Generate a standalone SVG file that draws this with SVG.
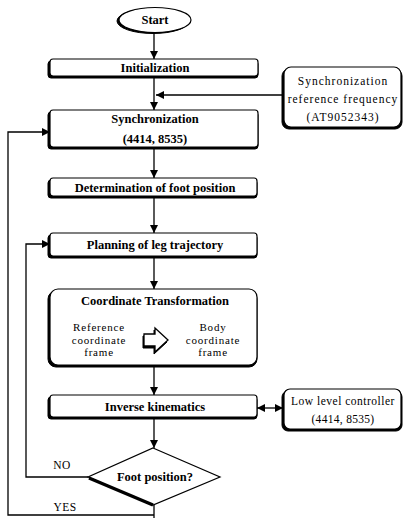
<svg xmlns="http://www.w3.org/2000/svg" width="404" height="518" viewBox="0 0 404 518">
<style>
.bx{fill:#fff;stroke:#000;stroke-width:1.2}
.sh{fill:#000;stroke:#000;stroke-width:1}
.lb{font-family:"Liberation Serif","Times New Roman",serif;font-size:12.5px;font-weight:bold;fill:#000;text-anchor:middle}
.rg{font-family:"Liberation Serif","Times New Roman",serif;font-size:11.5px;fill:#000;text-anchor:middle;letter-spacing:1px}
.ct{font-family:"Liberation Serif","Times New Roman",serif;font-size:11px;fill:#000;text-anchor:middle;letter-spacing:0.8px}
.ln{fill:none;stroke:#000;stroke-width:1.3}
</style>
<defs>
<marker id="ah" viewBox="0 0 10 10" refX="10" refY="5" markerWidth="8" markerHeight="8" markerUnits="userSpaceOnUse" orient="auto-start-reverse">
<path d="M0,0 L10,5 L0,10 Z" fill="#000"/>
</marker>
</defs>
<rect width="404" height="518" fill="#fff"/>
<g id="connectors">
<line class="ln" x1="154" y1="33" x2="154" y2="59" marker-end="url(#ah)"/>
<line class="ln" x1="154" y1="77" x2="154" y2="110" marker-end="url(#ah)"/>
<line class="ln" x1="284" y1="95" x2="156" y2="95" marker-end="url(#ah)"/>
<line class="ln" x1="154" y1="148" x2="154" y2="178" marker-end="url(#ah)"/>
<line class="ln" x1="154" y1="197" x2="154" y2="233" marker-end="url(#ah)"/>
<line class="ln" x1="154" y1="257" x2="154" y2="289" marker-end="url(#ah)"/>
<line class="ln" x1="154" y1="366" x2="154" y2="395" marker-end="url(#ah)"/>
<line class="ln" x1="257" y1="408" x2="283" y2="408" marker-start="url(#ah)" marker-end="url(#ah)"/>
<line class="ln" x1="154" y1="418" x2="154" y2="448" marker-end="url(#ah)"/>
<polyline class="ln" points="88,477 26,477 26,244 50,244" marker-end="url(#ah)"/>
<line class="ln" x1="154" y1="505" x2="154" y2="518"/>
<polyline class="ln" points="154,515 8,515 8,132 50,132" marker-end="url(#ah)"/>
<text x="62" y="469" class="rg" style="letter-spacing:0.5px">NO</text>
<text x="65" y="511" class="rg" style="letter-spacing:0.5px">YES</text>
</g>
<g id="start">
<ellipse cx="153" cy="21" rx="36" ry="12.5" class="sh"/>
<ellipse cx="155" cy="20" rx="36" ry="12.5" class="bx"/>
<text x="155" y="24" class="lb">Start</text>
</g>
<g id="init">
<rect x="48" y="61" width="210" height="17" rx="3" class="sh"/>
<rect x="50" y="59" width="208" height="17" rx="3" class="bx"/>
<text x="155" y="72" class="lb">Initialization</text>
</g>
<g id="syncref">
<rect x="282" y="69" width="120" height="60" rx="7" class="sh"/>
<rect x="284" y="67" width="117" height="60" rx="7" class="bx"/>
<text x="343" y="85" class="rg">Synchronization</text>
<text x="343" y="103" class="rg">reference frequency</text>
<text x="343" y="121" class="rg">(AT9052343)</text>
</g>
<g id="sync">
<rect x="48" y="112" width="210" height="37" rx="3" class="sh"/>
<rect x="50" y="110" width="208" height="37" rx="3" class="bx"/>
<text x="155" y="123" class="lb">Synchronization</text>
<text x="155" y="143" class="lb">(4414, 8535)</text>
</g>
<g id="foot">
<rect x="48" y="180" width="209" height="18" rx="3" class="sh"/>
<rect x="50" y="178" width="207" height="18" rx="3" class="bx"/>
<text x="155" y="191.5" class="lb">Determination of foot position</text>
</g>
<g id="plan">
<rect x="48" y="235" width="209" height="23" rx="3" class="sh"/>
<rect x="50" y="233" width="207" height="23" rx="3" class="bx"/>
<text x="155" y="248.5" class="lb">Planning of leg trajectory</text>
</g>
<g id="coord">
<rect x="48" y="291" width="209" height="76" rx="8" class="sh"/>
<rect x="50" y="289" width="207" height="76" rx="8" class="bx"/>
<text x="155" y="305" class="lb">Coordinate Transformation</text>
<text x="99" y="331" class="ct">Reference</text>
<text x="99" y="343.5" class="ct">coordinate</text>
<text x="99" y="356" class="ct">frame</text>
<text x="213" y="331" class="ct">Body</text>
<text x="213" y="343.5" class="ct">coordinate</text>
<text x="213" y="356" class="ct">frame</text>
<polygon points="143,336 154,336 154,330 167,342 154,354 154,348 143,348" fill="#000" stroke="#000" stroke-width="1"/>
<polygon points="144,334 155,334 155,328 168,340 155,352 155,346 144,346" fill="#fff" stroke="#000" stroke-width="1.3"/>
</g>
<g id="ik">
<rect x="48" y="397" width="209" height="22" rx="3" class="sh"/>
<rect x="50" y="395" width="207" height="22" rx="3" class="bx"/>
<text x="155" y="410.5" class="lb">Inverse kinematics</text>
</g>
<g id="lowlevel">
<rect x="282" y="391" width="120" height="40" rx="6" class="sh"/>
<rect x="284" y="389" width="117" height="40" rx="6" class="bx"/>
<text x="343" y="405" class="rg" style="letter-spacing:0.5px">Low level controller</text>
<text x="343" y="423" class="rg" style="letter-spacing:0.3px">(4414, 8535)</text>
</g>
<g id="decision">
<polygon points="153,448 220,477 153,505 88,477" class="bx"/>
<line x1="89" y1="478" x2="153" y2="505" stroke="#000" stroke-width="3.5"/>
<text x="155" y="481" class="lb">Foot position?</text>
</g>
</svg>
